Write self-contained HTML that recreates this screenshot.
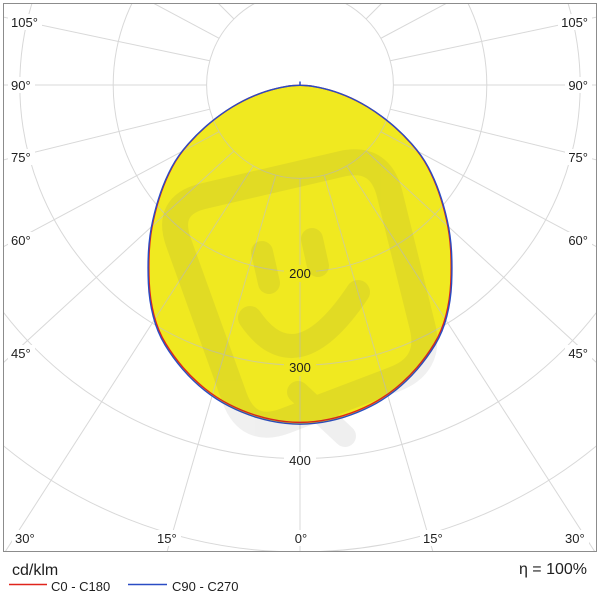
<!DOCTYPE html>
<html><head><meta charset="utf-8"><style>
html,body{margin:0;padding:0;background:#fff;}
svg{display:block;}
text{font-family:"Liberation Sans",Arial,sans-serif;}
</style></head><body>
<svg width="601" height="600" viewBox="0 0 601 600" xmlns="http://www.w3.org/2000/svg">
<defs>
<clipPath id="c"><rect x="3.5" y="3.5" width="593" height="548"/></clipPath>
<path id="curve" d="M292.875,85.625 Q285.75,86.25 275.64,88.665 Q265.53,91.08 254.51,95.61 Q243.49,100.14 232.28,106.935 Q221.07,113.73 209.78,123.03 Q198.49,132.33 188.19,143.915 Q177.89,155.5 171.57,167.425 Q165.25,179.35 160.615,192.595 Q155.98,205.84 152.685,220.725 Q149.39,235.61 148.525,251.08 Q147.66,266.55 148.405,283.495 Q149.15,300.44 153.2,316.345 Q157.25,332.25 165.02,345.025 Q172.79,357.8 182.61,369.165 Q192.43,380.53 204.09,389.97 Q215.75,399.41 228.96,406.175 Q242.17,412.94 256.355,417.325 Q270.54,421.71 285.27,423.355 Q300,425 314.73,423.355 Q329.46,421.71 343.645,417.325 Q357.83,412.94 371.04,406.175 Q384.25,399.41 395.91,389.97 Q407.57,380.53 417.39,369.165 Q427.21,357.8 434.98,345.025 Q442.75,332.25 446.8,316.345 Q450.85,300.44 451.595,283.495 Q452.34,266.55 451.475,251.08 Q450.61,235.61 447.315,220.725 Q444.02,205.84 439.385,192.595 Q434.75,179.35 428.43,167.425 Q422.11,155.5 411.81,143.915 Q401.51,132.33 390.22,123.03 Q378.93,113.73 367.72,106.935 Q356.51,100.14 345.49,95.61 Q334.47,91.08 324.36,88.665 Q314.25,86.25 307.125,85.625 Q300,85 292.875,85.625 Z"/>
</defs>
<rect x="0" y="0" width="601" height="600" fill="#fff"/>
<g clip-path="url(#c)">
  <use href="#curve" fill="rgb(240,233,32)" stroke="none"/>
  <g stroke="#c4c4c4" stroke-width="1" fill="none" opacity="0.65">
    <circle cx="300" cy="85" r="93.4"/>
    <circle cx="300" cy="85" r="186.8"/>
    <circle cx="300" cy="85" r="280.2"/>
    <circle cx="300" cy="85" r="373.6"/>
    <circle cx="300" cy="85" r="467"/>
    <line x1="300" y1="178.4" x2="300" y2="552"/>
    <line x1="275.8" y1="175.2" x2="167" y2="552"/>
    <line x1="253.3" y1="165.9" x2="5" y2="552"/>
    <line x1="234" y1="151" x2="3" y2="363"/>
    <line x1="219.1" y1="131.7" x2="3" y2="247"/>
    <line x1="209.8" y1="109.2" x2="3" y2="160"/>
    <line x1="206.6" y1="85" x2="3" y2="85"/>
    <line x1="209.8" y1="60.8" x2="3" y2="17"/>
    <line x1="219.1" y1="38.3" x2="153" y2="3"/>
    <line x1="234" y1="19" x2="218" y2="3"/>
    <line x1="324.2" y1="175.2" x2="433" y2="552"/>
    <line x1="346.7" y1="165.9" x2="595" y2="552"/>
    <line x1="366" y1="151" x2="597" y2="363"/>
    <line x1="380.9" y1="131.7" x2="597" y2="247"/>
    <line x1="390.2" y1="109.2" x2="597" y2="160"/>
    <line x1="393.4" y1="85" x2="597" y2="85"/>
    <line x1="390.2" y1="60.8" x2="597" y2="17"/>
    <line x1="380.9" y1="38.3" x2="447" y2="3"/>
    <line x1="366" y1="19" x2="382" y2="3"/>
  </g>
  <use href="#curve" fill="none" stroke="#e0241c" stroke-width="1.4" transform="translate(300,85) scale(0.9947) translate(-300,-85)"/>
  <use href="#curve" fill="none" stroke="#2a4cc4" stroke-width="1.4"/>
  <line x1="300" y1="85" x2="300" y2="81.5" stroke="#2a4cc4" stroke-width="1.5"/>

  <!-- label backgrounds -->
  <g fill="#fff">
    <rect x="8" y="14" width="34" height="16"/>
    <rect x="8" y="77" width="27" height="16"/>
    <rect x="8" y="149" width="27" height="16"/>
    <rect x="8" y="232" width="27" height="16"/>
    <rect x="8" y="345" width="27" height="16"/>
    <rect x="558" y="14" width="34" height="16"/>
    <rect x="565" y="77" width="27" height="16"/>
    <rect x="565" y="149" width="27" height="16"/>
    <rect x="565" y="232" width="27" height="16"/>
    <rect x="565" y="345" width="27" height="16"/>
    <rect x="12" y="530" width="27" height="16"/>
    <rect x="154" y="530" width="27" height="16"/>
    <rect x="290" y="530" width="20" height="16"/>
    <rect x="420" y="530" width="27" height="16"/>
    <rect x="562" y="530" width="27" height="16"/>
    <rect x="284" y="452" width="32" height="17"/>
  </g>
  <g fill="rgb(240,233,32)">
    <rect x="284" y="265" width="32" height="17"/>
    <rect x="284" y="359" width="32" height="17"/>
  </g>

  <g font-size="13" fill="#1e1e1e">
    <text x="11" y="27">105°</text>
    <text x="11" y="90">90°</text>
    <text x="11" y="162">75°</text>
    <text x="11" y="245">60°</text>
    <text x="11" y="358">45°</text>
    <text x="588" y="27" text-anchor="end">105°</text>
    <text x="588" y="90" text-anchor="end">90°</text>
    <text x="588" y="162" text-anchor="end">75°</text>
    <text x="588" y="245" text-anchor="end">60°</text>
    <text x="588" y="358" text-anchor="end">45°</text>
    <text x="15" y="543">30°</text>
    <text x="157" y="543">15°</text>
    <text x="301" y="543" text-anchor="middle">0°</text>
    <text x="423" y="543">15°</text>
    <text x="565" y="543">30°</text>
    <text x="300" y="278" text-anchor="middle">200</text>
    <text x="300" y="372" text-anchor="middle">300</text>
    <text x="300" y="465" text-anchor="middle">400</text>
  </g>

  <!-- watermark -->
  <g opacity="0.085" stroke="#505050" fill="none" stroke-linecap="round" stroke-linejoin="round">
    <path stroke-width="26" d="M203.9,196 L341.1,164 Q380,155 389.6,193.8 L422.4,326.2 Q432,365 394.6,379.2 L285.4,420.8 Q248,435 234.4,397.4 L178.6,242.6 Q165,205 203.9,196 Z"/>
    <path stroke-width="22" d="M262,252 L269,283 M312,239 L318,266"/>
    <path stroke-width="24" d="M250,318 Q296,385 358,292"/>
    <path stroke-width="22" d="M298,392 L345,436"/>
  </g>
</g>
<rect x="3.5" y="3.5" width="593" height="548" fill="none" stroke="#8c8c8c" stroke-width="1"/>

<!-- legend -->
<text x="12" y="575" font-size="16" fill="#1e1e1e">cd/klm</text>
<text x="587" y="574" font-size="16" fill="#1e1e1e" text-anchor="end">η = 100%</text>
<line x1="9" y1="584.5" x2="47" y2="584.5" stroke="#e0241c" stroke-width="1.5"/>
<text x="51" y="591" font-size="13" fill="#1e1e1e">C0 - C180</text>
<line x1="128" y1="584.5" x2="167" y2="584.5" stroke="#2a4cc4" stroke-width="1.5"/>
<text x="172" y="591" font-size="13" fill="#1e1e1e">C90 - C270</text>
</svg>
</body></html>
